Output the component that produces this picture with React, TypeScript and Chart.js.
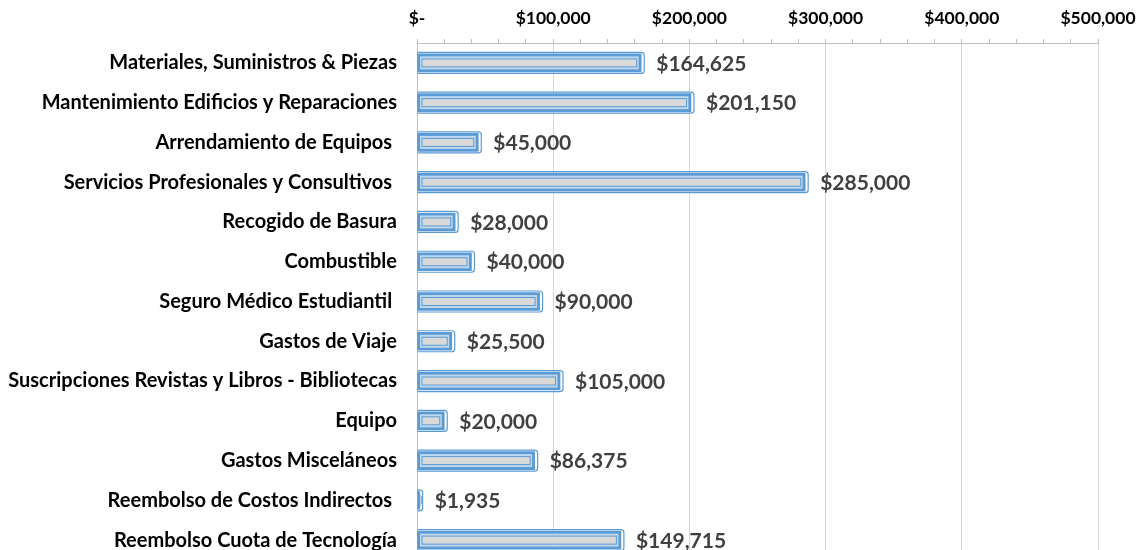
import React, { useEffect, useRef } from "react";
import { Chart, registerables } from "chart.js";

Chart.register(...registerables);

const categories = [
  "Materiales, Suministros & Piezas",
  "Mantenimiento Edificios y Reparaciones",
  "Arrendamiento de Equipos ",
  "Servicios Profesionales y Consultivos ",
  "Recogido de Basura",
  "Combustible",
  "Seguro Médico Estudiantil ",
  "Gastos de Viaje",
  "Suscripciones Revistas y Libros - Bibliotecas",
  "Equipo",
  "Gastos Misceláneos",
  "Reembolso de Costos Indirectos ",
  "Reembolso Cuota de Tecnología",
];

const amounts = [164625, 201150, 45000, 285000, 28000, 40000, 90000, 25500, 105000, 20000, 86375, 1935, 149715];

const valueLabels = ["$164,625", "$201,150", "$45,000", "$285,000", "$28,000", "$40,000", "$90,000", "$25,500", "$105,000", "$20,000", "$86,375", "$1,935", "$149,715"];

const xTickLabels = ["$-", "$100,000", "$200,000", "$300,000", "$400,000", "$500,000"];

const FONT = "Lato, 'Open Sans', sans-serif";

const barDecor = {
  id: "barDecor",
  afterDatasetsDraw(chart: any) {
    const ctx = chart.ctx;
    const area = chart.chartArea;
    const meta = chart.getDatasetMeta(0);
    ctx.save();
    ctx.beginPath();
    ctx.rect(area.left + 0.5, 0, chart.width, chart.height);
    ctx.clip();
    meta.data.forEach((bar: any) => {
      const { x, y, base } = bar.getProps(["x", "y", "base"], true);
      ctx.beginPath();
      ctx.strokeStyle = "#5B9BD5";
      ctx.lineWidth = 1.2;
      const ox = base - 3;
      const ow = x + 3 - ox;
      (ctx as any).roundRect(ox, y - 10.5, ow, 21, 3);
      ctx.stroke();
      const lx1 = base + 2.5;
      const lx2 = Math.max(lx1 + 1, x - 2.5);
      ctx.fillStyle = "#BDD7EE";
      ctx.fillRect(lx1, y - 6.5, lx2 - lx1, 13);
      const gx1 = base + 4;
      const gx2 = Math.max(gx1 + 1, x - 4);
      ctx.fillStyle = "#D9D9D9";
      ctx.fillRect(gx1, y - 4.5, gx2 - gx1, 9);
      ctx.strokeStyle = "#5B9BD5";
      ctx.lineWidth = 1;
      ctx.strokeRect(gx1 + 0.5, y - 4, gx2 - gx1 - 1, 8);
    });
    ctx.restore();
    ctx.save();
    ctx.fillStyle = "#404040";
    ctx.font = `bold 21px ${FONT}`;
    ctx.textBaseline = "middle";
    ctx.textAlign = "left";
    meta.data.forEach((bar: any, i: number) => {
      const { x, y } = bar.getProps(["x", "y"], true);
      ctx.fillText(valueLabels[i], x + 15, y + 1);
    });
    ctx.restore();
  },
};

export default function App() {
  const ref = useRef<HTMLCanvasElement | null>(null);
  useEffect(() => {
    document.body.style.margin = "0";
    document.body.style.overflow = "hidden";
    const chart = new Chart(ref.current as HTMLCanvasElement, {
      type: "bar",
      data: {
        labels: categories,
        datasets: [
          {
            data: amounts,
            backgroundColor: "#5B9BD5",
            borderWidth: 0,
            barThickness: 18,
          },
        ],
      },
      options: {
        indexAxis: "y",
        responsive: false,
        animation: false,
        layout: { padding: { left: 0, right: 38, top: 0, bottom: 2 } },
        plugins: { legend: { display: false }, tooltip: { enabled: false } },
        scales: {
          x: {
            position: "top",
            min: 0,
            max: 500000,
            afterFit: (s: any) => {
              s.height = 43;
              s.paddingLeft = 0;
              s.paddingRight = 0;
            },
            afterBuildTicks: (s: any) => {
              const t = [];
              for (let v = 0; v <= 500000; v += 20000) t.push({ value: v });
              s.ticks = t;
            },
            grid: {
              color: (c: any) => (c.tick && c.tick.value % 100000 === 0 ? "#D9D9D9" : "rgba(0,0,0,0)"),
              tickColor: "#BFBFBF",
              tickLength: 4,
              lineWidth: 1,
            },
            border: { display: true, color: "#BFBFBF" },
            ticks: {
              autoSkip: false,
              maxRotation: 0,
              padding: 10,
              color: "#000000",
              font: { family: FONT, size: 17.5, weight: "bold" },
              callback: (v: any) => (Number(v) % 100000 === 0 ? xTickLabels[Number(v) / 100000] : ""),
            },
          },
          y: {
            afterFit: (s: any) => {
              s.width = 417;
            },
            grid: { color: "rgba(0,0,0,0)", drawTicks: false },
            border: { display: true, color: "#BFBFBF" },
            ticks: {
              padding: 20,
              color: "#000000",
              font: { family: FONT, size: 20, weight: "bold" },
            },
          },
        },
      },
      plugins: [barDecor],
    });
    return () => chart.destroy();
  }, []);
  return <canvas ref={ref} width={1136} height={592} style={{ display: "block" }} />;
}
